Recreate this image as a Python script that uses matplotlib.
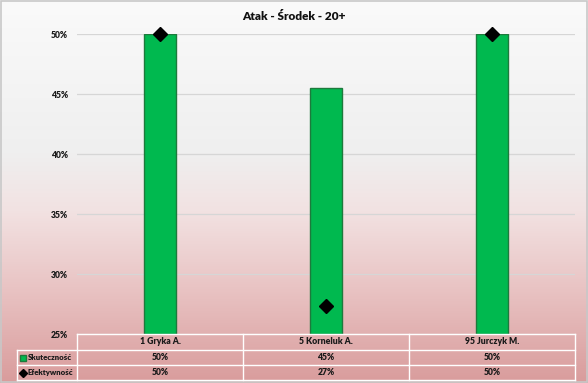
import numpy as np
import matplotlib
matplotlib.use("Agg")
import matplotlib.pyplot as plt
from matplotlib.colors import LinearSegmentedColormap
from matplotlib.lines import Line2D
from matplotlib.patches import Rectangle

title = "Atak - Środek - 20+"
players = ["1 Gryka A.", "5 Korneluk A.", "95 Jurczyk M."]
skutecznosc = [50.0, 45.5, 50.0]
efektywnosc = [50.0, 27.3, 50.0]
skut_labels = ["50%", "45%", "50%"]
efek_labels = ["50%", "27%", "50%"]
series_names = ["Skuteczność", "Efektywność"]
yticks = [25, 30, 35, 40, 45, 50]

plt.rcParams['font.family'] = ['Lato', 'DejaVu Sans']
plt.rcParams['font.weight'] = 'heavy'
FW = 'heavy'
FS = 6.2
TC = '#1a1a1a'

W, H = 588, 383
fig = plt.figure(figsize=(W/100, H/100), dpi=100)

# background gradient
bg = fig.add_axes([0, 0, 1, 1], zorder=-10)
cmap = LinearSegmentedColormap.from_list("bg", [
    (0.0, "#fafafa"), (0.40, "#efefef"), (0.55, "#f2e2e2"),
    (0.75, "#e9c4c4"), (1.0, "#d99c9c")])
grad = np.linspace(0, 1, 256).reshape(-1, 1)
bg.imshow(grad, aspect='auto', cmap=cmap, extent=[0, 1, 0, 1], origin='upper')
bg.set_xlim(0, 1); bg.set_ylim(0, 1)
bg.axis('off')
bg.add_patch(Rectangle((0.001, 0.002), 0.997, 0.995, fill=False,
                       edgecolor='#c8c8c8', lw=1.2, transform=bg.transAxes))

def fx(px): return px / W
def fy(py): return 1 - py / H

x0, x1 = 77, 575
ytop, ybot = 34, 334
ax = fig.add_axes([fx(x0), fy(ybot), (x1 - x0)/W, (ybot - ytop)/H])
ax.set_facecolor('none')
x = np.arange(len(players))
ax.bar(x, np.array(skutecznosc) - 25, bottom=25, width=0.19, color='#00b94f',
       edgecolor='#1d7a3c', lw=1.0, zorder=3)
ax.plot(x, efektywnosc, linestyle='none', marker='D', color='black',
        markersize=7, zorder=4, clip_on=False)
ax.set_xlim(-0.5, len(players) - 0.5)
ax.set_ylim(25, 50)
ax.set_yticks(yticks)
ax.set_yticklabels([f"{v}%" for v in yticks], fontsize=FS, fontweight=FW,
                   color=TC)
ax.tick_params(axis='y', length=0, pad=6.5)
ax.set_xticks([])
ax.grid(axis='y', color='#d6d6d6', lw=0.9, zorder=0)
for s in ax.spines.values():
    s.set_visible(False)

fig.text(0.5, fy(16), title, ha='center', va='center', fontsize=8.5,
         fontweight=FW, color='#111111')

# data table
col_edges = [77, 243, 409, 575]
row_edges = [334, 350, 365, 380]
lab_x0 = 17
lc = 'white'
lw = 1.0
fig.add_artist(Line2D([fx(77), fx(575)], [fy(334), fy(334)], color=lc, lw=lw))
for ry in row_edges[1:]:
    fig.add_artist(Line2D([fx(lab_x0), fx(575)], [fy(ry), fy(ry)], color=lc, lw=lw))
for cx in col_edges:
    fig.add_artist(Line2D([fx(cx), fx(cx)], [fy(334), fy(380)], color=lc, lw=lw))
fig.add_artist(Line2D([fx(lab_x0), fx(lab_x0)], [fy(350), fy(380)], color=lc, lw=lw))

centers = [(col_edges[i] + col_edges[i+1]) / 2 for i in range(3)]
for i, p in enumerate(players):
    fig.text(fx(centers[i]), fy(342), p, ha='center', va='center', fontsize=FS,
             fontweight=FW, color=TC)
    fig.text(fx(centers[i]), fy(357.5), skut_labels[i], ha='center', va='center',
             fontsize=FS, fontweight=FW, color=TC)
    fig.text(fx(centers[i]), fy(372.5), efek_labels[i], ha='center', va='center',
             fontsize=FS, fontweight=FW, color=TC)

fig.add_artist(Line2D([fx(23)], [fy(357.5)], marker='s', color='#00b94f',
                      markeredgecolor='#1d7a3c', markersize=4.5, linestyle='none'))
fig.add_artist(Line2D([fx(22.5)], [fy(372.5)], marker='D', color='black',
                      markersize=4, linestyle='none'))
fig.text(fx(28), fy(357.5), series_names[0], ha='left', va='center', fontsize=5.6,
         fontweight=FW, color=TC)
fig.text(fx(28), fy(372.5), series_names[1], ha='left', va='center', fontsize=5.6,
         fontweight=FW, color=TC)

fig.savefig("out.png", dpi=100)
